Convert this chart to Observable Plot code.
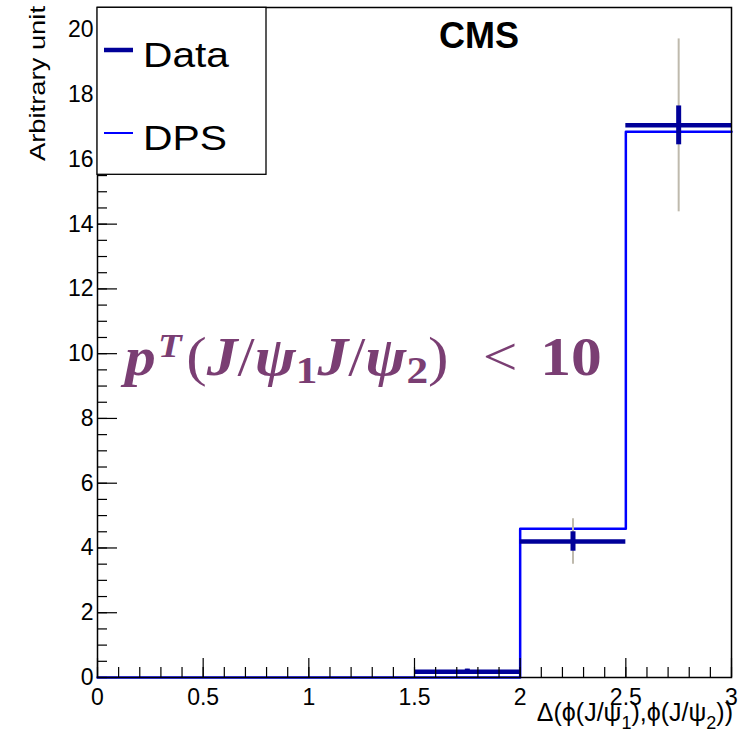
<!DOCTYPE html>
<html><head><meta charset="utf-8">
<script src="https://cdn.jsdelivr.net/npm/d3@7"></script>
<script src="https://cdn.jsdelivr.net/npm/@observablehq/plot@0.6"></script>
<style>body{margin:0;background:#fff} svg{display:block}</style>
</head><body><div id="chart"></div>
<script>
// Histogram bins
const binLow  = [0, 0.5, 1, 1.5, 2, 2.5];
const binHigh = [0.5, 1, 1.5, 2, 2.5, 3];
// DPS template (blue step line)
const dpsValues = [0, 0, 0, 0, 4.59, 16.85];
// Data points
const dataLow   = [1.5, 2, 2.5];
const dataHigh  = [2, 2.5, 3];
const dataValues  = [0.18, 4.20, 17.05];
const dataStatErr = [0.08, 0.30, 0.60];
const dataTotErr  = [0.08, 0.70, 2.67];
// Ticks
const xMajorTicks = [0, 0.5, 1, 1.5, 2, 2.5, 3];
const xTickLabels = ["0", "0.5", "1", "1.5", "2", "2.5", "3"];
const yMajorTicks = [0, 2, 4, 6, 8, 10, 12, 14, 16, 18, 20];
const yTickLabels = ["0", "2", "4", "6", "8", "10", "12", "14", "16", "18", "20"];
const xMinorTicks = d3.range(0, 3.0001, 0.1).map(v => +v.toFixed(2));
const yMinorTicks = d3.range(0, 20.6, 0.5);

const NAVY = "#000099", BLUE = "#0000ff", GRAY = "#bfbaad", PURPLE = "#7a3e73";

const dpsSteps = binLow.map((x, i) => ({x, y: dpsValues[i]}))
  .concat([{x: binHigh[binHigh.length - 1], y: dpsValues[dpsValues.length - 1]}]);
const dataRows = dataValues.map((v, i) => ({
  lo: dataLow[i], hi: dataHigh[i], c: (dataLow[i] + dataHigh[i]) / 2, v,
  s1: v - dataStatErr[i], s2: v + dataStatErr[i], t1: v - dataTotErr[i], t2: v + dataTotErr[i]
}));
const xLab = new Map(xMajorTicks.map((t, i) => [t, xTickLabels[i]]));
const yLab = new Map(yMajorTicks.map((t, i) => [t, yTickLabels[i]]));

const chart = Plot.plot({
  width: 743, height: 741,
  marginLeft: 97, marginRight: 12, marginTop: 7, marginBottom: 64,
  x: {domain: [0, 3]},
  y: {domain: [0, 20.69]},
  style: {fontFamily: "'Liberation Sans', Arial, sans-serif", background: "white"},
  marks: [
    Plot.line(dpsSteps, {x: "x", y: "y", curve: "step-after", stroke: BLUE, strokeWidth: 2.5}),
    Plot.ruleX(dataRows, {x: "c", y1: "t1", y2: "t2", stroke: GRAY, strokeWidth: 2}),
    Plot.ruleY(dataRows, {y: "v", x1: "lo", x2: "hi", stroke: NAVY, strokeWidth: 4.5}),
    Plot.ruleX(dataRows, {x: "c", y1: "s1", y2: "s2", stroke: NAVY, strokeWidth: 5}),
    Plot.axisX({ticks: xMinorTicks, tickSize: -10, tickFormat: () => "", label: null, strokeWidth: 1.2}),
    Plot.axisX({ticks: xMajorTicks, tickSize: -19, tickFormat: () => "", label: null, strokeWidth: 1.2}),
    Plot.axisX({ticks: xMajorTicks, tickSize: 0, tickPadding: 11, tickFormat: d => xLab.get(d), label: null, fontSize: 23, fill: "black", ariaLabel: "xlabels"}),
    Plot.axisY({ticks: yMinorTicks, tickSize: -10, tickFormat: () => "", label: null, strokeWidth: 1.2}),
    Plot.axisY({ticks: yMajorTicks, tickSize: -20, tickFormat: () => "", label: null, strokeWidth: 1.2}),
    Plot.axisY({ticks: yMajorTicks, tickSize: 0, tickPadding: 4, tickFormat: d => yLab.get(d), label: null, fontSize: 23, fill: "black", ariaLabel: "ylabels"}),
    Plot.frame({stroke: "black", strokeWidth: 1.5})
  ]
});
document.getElementById("chart").appendChild(chart);

const svg = d3.select(chart);
const font = "'Liberation Sans', Arial, sans-serif";

// widen tick labels slightly (reference glyphs are wider)
svg.selectAll("g[aria-label='xlabels'] text, g[aria-label='ylabels'] text").each(function() {
  const w = this.getComputedTextLength();
  if (w > 0) d3.select(this).attr("textLength", w * 1.16).attr("lengthAdjust", "spacingAndGlyphs");
});

// Y axis title
svg.append("text")
  .attr("transform", "translate(45,6) rotate(-90)")
  .attr("text-anchor", "end")
  .attr("font-family", font).attr("font-size", 22)
  .attr("textLength", 155).attr("lengthAdjust", "spacingAndGlyphs")
  .text("Arbitrary unit");

// X axis title with subscripts
const xt = svg.append("text")
  .attr("x", 733).attr("y", 721).attr("text-anchor", "end")
  .attr("font-family", font).attr("font-size", 25);
xt.append("tspan").text("Δ(ϕ(J/ψ");
xt.append("tspan").attr("font-size", 18).attr("dy", 8).text("1");
xt.append("tspan").attr("dy", -8).text("),ϕ(J/ψ");
xt.append("tspan").attr("font-size", 18).attr("dy", 8).text("2");
xt.append("tspan").attr("dy", -8).text("))");

// CMS label
svg.append("text")
  .attr("x", 479).attr("y", 48).attr("text-anchor", "middle")
  .attr("font-family", font).attr("font-weight", "bold").attr("font-size", 36)
  .text("CMS");

// Legend
const lg = svg.append("g").attr("text-anchor", "start");
lg.append("rect").attr("x", 97).attr("y", 7.3).attr("width", 169).attr("height", 167)
  .attr("fill", "white").attr("stroke", "black").attr("stroke-width", 1.3);
lg.append("line").attr("x1", 104).attr("x2", 133).attr("y1", 50).attr("y2", 50)
  .attr("stroke", NAVY).attr("stroke-width", 4.5);
lg.append("line").attr("x1", 104).attr("x2", 133).attr("y1", 133).attr("y2", 133)
  .attr("stroke", BLUE).attr("stroke-width", 2);
lg.append("text").attr("x", 143).attr("y", 67).attr("font-family", font).attr("font-size", 35)
  .attr("textLength", 86).attr("lengthAdjust", "spacingAndGlyphs").text("Data");
lg.append("text").attr("x", 143).attr("y", 150).attr("font-family", font).attr("font-size", 35)
  .attr("textLength", 84).attr("lengthAdjust", "spacingAndGlyphs").text("DPS");

// Math annotation
const serif = "'Liberation Serif', 'DejaVu Serif', serif";
const mt = svg.append("text")
  .attr("transform", "translate(125,375) scale(1.14,1)")
  .attr("text-anchor", "start")
  .attr("font-family", serif).attr("font-size", 54).attr("font-weight", "bold")
  .attr("fill", PURPLE);
mt.append("tspan").attr("font-style", "italic").text("p");
mt.append("tspan").attr("font-style", "italic").attr("font-size", 34).attr("dy", -18).attr("dx", 2).text("T");
mt.append("tspan").attr("dy", 18).attr("dx", 4).attr("font-weight", "normal").text("(");
mt.append("tspan").attr("font-style", "italic").text("J");
mt.append("tspan").attr("font-weight", "normal").text("/");
mt.append("tspan").attr("font-style", "italic").text("ψ");
mt.append("tspan").attr("font-size", 38).attr("dy", 8).text("1");
mt.append("tspan").attr("font-style", "italic").attr("dy", -8).text("J");
mt.append("tspan").attr("font-weight", "normal").text("/");
mt.append("tspan").attr("font-style", "italic").text("ψ");
mt.append("tspan").attr("font-size", 38).attr("dy", 8).text("2");
mt.append("tspan").attr("dy", -8).attr("font-weight", "normal").text(")");
mt.append("tspan").attr("dx", 30).attr("font-weight", "normal").text("<");
mt.append("tspan").attr("dx", 20).text("10");
</script>
</body></html>
